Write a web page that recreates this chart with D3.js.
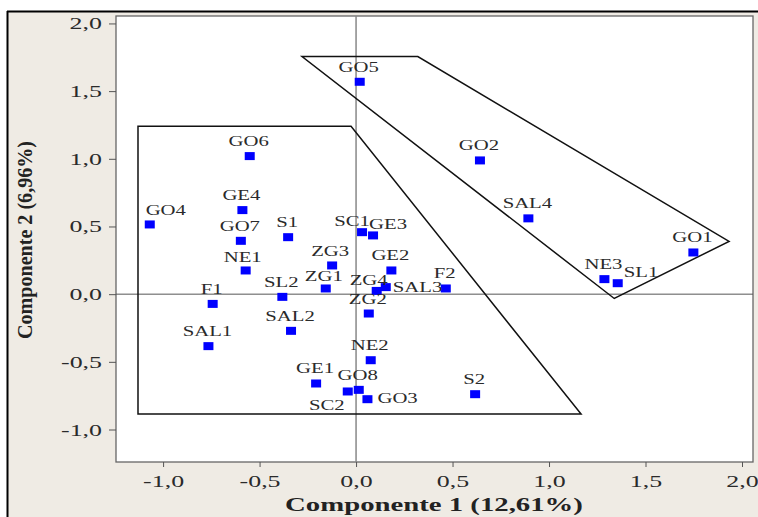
<!DOCTYPE html>
<html>
<head>
<meta charset="utf-8">
<script src="https://cdn.jsdelivr.net/npm/d3@7"></script>
<style>
  body { margin: 0; background: #fff; }
  svg { display: block; }
  text { font-family: "Liberation Serif", "Times New Roman", serif; }
</style>
</head>
<body>
<script>
// PCA scores, component 1 vs component 2

const names = ["GO5", "GO6", "GO2", "GE4", "GO4", "SAL4", "GO7", "S1", "SC1", "GE3",
    "GO1", "ZG3", "NE1", "GE2", "ZG1", "ZG4", "SAL3", "F2", "NE3", "SL1",
    "F1", "SL2", "SAL2", "SAL1", "ZG2", "NE2", "GE1", "SC2", "GO8", "GO3", "S2"];
const comp1 = [0.019, -0.551, 0.642, -0.589, -1.069, 0.893, -0.597, -0.352, 0.031, 0.088,
    1.748, -0.124, -0.572, 0.183, -0.157, 0.107, 0.154, 0.465, 1.287, 1.356,
    -0.743, -0.382, -0.337, -0.765, 0.066, 0.076, -0.207, -0.043, 0.014, 0.059, 0.617];
const comp2 = [1.569, 1.02, 0.988, 0.621, 0.515, 0.56, 0.394, 0.421, 0.458, 0.434,
    0.308, 0.212, 0.175, 0.175, 0.042, 0.024, 0.052, 0.042, 0.111, 0.081,
    -0.072, -0.02, -0.271, -0.384, -0.143, -0.488, -0.66, -0.719, -0.707, -0.776, -0.739];

// group outlines (vertices in score units)
const groupLeft = [[-1.13, 1.24], [-0.026, 1.24], [1.166, -0.886], [-1.13, -0.886]];
const groupRight = [[-0.28, 1.755], [0.32, 1.755], [1.933, 0.39], [1.338, -0.032]];

const ticks = [-1.0, -0.5, 0.0, 0.5, 1.0, 1.5, 2.0];

// label placement tweaks: [dx, dy, anchor]
const labelNudge = {
    GO4: [16, -9, "middle"],
    SC1: [-10, -6, "middle"],
    GE3: [15, -6, "middle"],
    ZG3: [-2, -9, "middle"],
    NE1: [-3, -8, "middle"],
    ZG1: [-2, -7, "middle"],
    ZG4: [-8, -6, "middle"],
    SAL3: [7, 5, "start"],
    SL1: [6, -6, "start"],
    SC2: [-21, 19, "middle"],
    GO3: [10, 4, "start"]
};

const width = 758, height = 517;
const plot = { left: 116, right: 753, top: 16, bottom: 462 };

const svg = d3.select("body").append("svg")
    .attr("width", width)
    .attr("height", height);

// beige panel with black frame on top/left
svg.append("rect").attr("x", 7).attr("y", 11)
    .attr("width", width).attr("height", height)
    .attr("fill", "#efebe4");
svg.append("line").attr("x1", 7).attr("x2", width).attr("y1", 11.5).attr("y2", 11.5)
    .attr("stroke", "#000").attr("stroke-width", 2);
svg.append("line").attr("x1", 7.5).attr("x2", 7.5).attr("y1", 11).attr("y2", height)
    .attr("stroke", "#000").attr("stroke-width", 2);

const x = d3.scaleLinear().domain([-1.244, 2.057]).range([plot.left, plot.right]);
const y = d3.scaleLinear().domain([-1.24, 2.055]).range([plot.bottom, plot.top]);

svg.append("rect")
    .attr("x", plot.left).attr("y", plot.top)
    .attr("width", plot.right - plot.left).attr("height", plot.bottom - plot.top)
    .attr("fill", "#fff").attr("stroke", "#666").attr("stroke-width", 1.3);

const fmt = d => d.toFixed(1).replace(".", ",");

const xAxis = svg.append("g")
    .attr("transform", `translate(0,${plot.bottom})`)
    .call(d3.axisBottom(x).tickValues(ticks).tickSize(5).tickFormat(fmt));
xAxis.select(".domain").remove();
xAxis.selectAll(".tick line").attr("stroke", "#555");
xAxis.selectAll(".tick text")
    .attr("y", 0).attr("dy", null)
    .attr("transform", "translate(0,25) scale(1.62,1)")
    .attr("font-size", 16).attr("fill", "#2a2a2a")
    .attr("font-family", "Liberation Serif, serif");

const yAxis = svg.append("g")
    .attr("transform", `translate(${plot.left},0)`)
    .call(d3.axisLeft(y).tickValues(ticks).tickSize(7).tickFormat(fmt));
yAxis.select(".domain").remove();
yAxis.selectAll(".tick line").attr("stroke", "#555");
yAxis.selectAll(".tick text")
    .attr("x", 0).attr("dy", null)
    .attr("text-anchor", "end")
    .attr("transform", "translate(-14,5.5) scale(1.62,1)")
    .attr("font-size", 16).attr("fill", "#2a2a2a")
    .attr("font-family", "Liberation Serif, serif");

// zero reference lines
svg.append("line")
    .attr("x1", x(0)).attr("x2", x(0)).attr("y1", plot.top).attr("y2", plot.bottom)
    .attr("stroke", "#888").attr("stroke-width", 1.5);
svg.append("line")
    .attr("x1", plot.left).attr("x2", plot.right).attr("y1", y(0)).attr("y2", y(0))
    .attr("stroke", "#555").attr("stroke-width", 1);

const outline = d3.line().x(d => x(d[0])).y(d => y(d[1])).curve(d3.curveLinearClosed);
svg.selectAll(".group")
    .data([groupLeft, groupRight])
    .join("path")
    .attr("class", "group")
    .attr("d", outline)
    .attr("fill", "none")
    .attr("stroke", "#111")
    .attr("stroke-width", 1.5);

const points = names.map((n, i) => ({ name: n, c1: comp1[i], c2: comp2[i] }));

svg.selectAll(".pt")
    .data(points)
    .join("rect")
    .attr("class", "pt")
    .attr("x", d => x(d.c1) - 5)
    .attr("y", d => y(d.c2) - 4)
    .attr("width", 10)
    .attr("height", 8)
    .attr("fill", "#0000ff");

svg.selectAll(".lbl")
    .data(points)
    .join("text")
    .attr("class", "lbl")
    .attr("transform", d => {
        const nz = labelNudge[d.name] || [-1, -10, "middle"];
        return `translate(${x(d.c1) + nz[0]},${y(d.c2) + nz[1]}) scale(1.48,1)`;
    })
    .attr("text-anchor", d => (labelNudge[d.name] || [0, 0, "middle"])[2])
    .attr("font-size", 14)
    .attr("fill", "#2a2a2a")
    .text(d => d.name);

// axis titles
const xTitle = svg.append("text")
    .attr("text-anchor", "middle")
    .attr("font-size", 18)
    .attr("font-weight", "bold")
    .attr("fill", "#222")
    .text("Componente 1 (12,61%)");
const xw = xTitle.node().getComputedTextLength();
xTitle.attr("transform", `translate(434,511) scale(${298 / xw},1)`);

svg.append("text")
    .attr("text-anchor", "middle")
    .attr("transform", "translate(32,240) rotate(-90)")
    .attr("font-size", 22)
    .attr("font-weight", "bold")
    .attr("fill", "#222")
    .attr("textLength", 198)
    .attr("lengthAdjust", "spacingAndGlyphs")
    .text("Componente 2 (6,96%)");
</script>
</body>
</html>
